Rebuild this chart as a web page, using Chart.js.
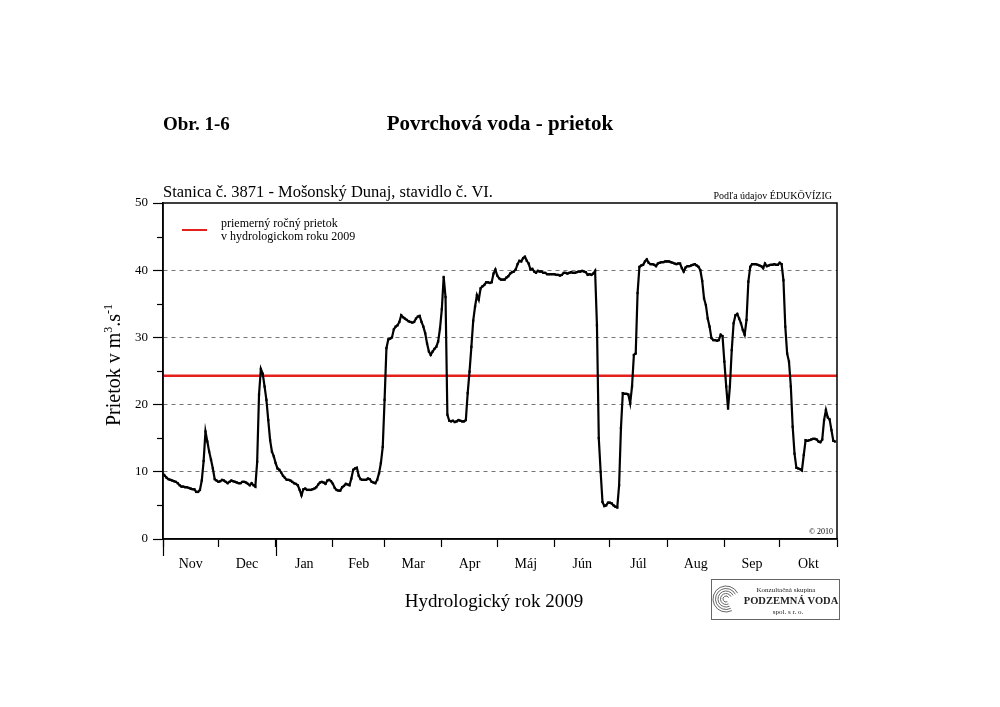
<!DOCTYPE html>
<html>
<head>
<meta charset="utf-8">
<script src="https://cdn.jsdelivr.net/npm/chart.js@4.4.1/dist/chart.umd.min.js"></script>
<style>
html,body{margin:0;padding:0;background:#fff;}
#wrap{width:1000px;height:707px;}
</style>
</head>
<body>
<div id="wrap"><canvas id="c" width="1000" height="707"></canvas></div>
<script>
// ---- data: daily discharge (m3/s), hydrological year 2009 (Nov 2008 - Oct 2009) ----
const monthLabels = ['Nov','Dec','Jan','Feb','Mar','Apr','Máj','Jún','Júl','Aug','Sep','Okt'];
const monthDays   = [30,31,31,28,31,30,31,30,31,31,30,31];

const novQ = [9.7,9.4,9.1,8.9,8.8,8.7,8.6,8.5,8.3,8.0, 7.8,7.8,7.7,7.7,7.6,7.5,7.4,7.4,7.0,7.0, 7.3,8.7,11.6,16.0,14.5,13.0,11.8,10.5,8.9,8.7];
const decQ = [8.5,8.6,8.8,8.7,8.5,8.3,8.5,8.7,8.6,8.5, 8.4,8.3,8.3,8.5,8.5,8.4,8.2,8.0,8.3,8.0, 7.8,11.5,21.5,25.3,24.6,22.7,20.7,17.7,14.7,13.0, 12.3];
const janQ = [11.3,10.5,10.3,9.9,9.4,9.1,8.8,8.8,8.7,8.5, 8.3,8.2,8.0,7.3,6.5,7.4,7.5,7.3,7.3,7.3, 7.4,7.5,7.7,8.1,8.4,8.5,8.4,8.2,8.7,8.8, 8.6];
const febQ = [8.2,7.6,7.3,7.2,7.2,7.7,7.9,8.2,8.1,8.0, 9.0,10.3,10.5,10.6,9.4,8.9,8.8,8.8,8.8,9.0, 8.9,8.5,8.4,8.3,8.8,9.8,11.3,13.7];
const marQ = [20.7,28.4,29.7,29.8,30.0,31.2,31.6,31.8,32.3,33.3, 33.0,32.8,32.6,32.4,32.3,32.2,32.3,32.8,33.1,33.2, 32.3,31.6,30.6,29.1,27.9,27.4,27.9,28.3,28.6,29.4, 31.3];
const aprQ = [34.2,39.0,36.0,18.5,17.6,17.5,17.6,17.4,17.5,17.7, 17.6,17.5,17.5,17.7,21.7,24.9,28.6,32.5,34.6,36.3, 35.6,37.3,37.6,37.8,38.2,38.2,38.1,38.2,39.5,40.1];
const mayQ = [39.2,38.8,38.6,38.6,38.6,38.9,39.1,39.5,39.7,39.8, 40.1,40.9,41.4,41.3,41.8,42.0,41.4,41.0,40.1,40.2, 39.8,39.6,39.9,39.8,39.8,39.6,39.6,39.4,39.4,39.4, 39.4];
const junQ = [39.4,39.3,39.3,39.2,39.3,39.6,39.6,39.5,39.6,39.7, 39.6,39.6,39.7,39.8,39.8,39.9,39.8,39.7,39.3,39.4, 39.3,39.5,39.9,31.8,15.0,10.0,5.5,4.9,5.0,5.4];
const julQ = [5.4,5.3,5.0,4.8,4.7,8.0,16.5,21.7,21.6,21.6, 21.5,20.2,22.7,27.4,27.6,36.6,40.5,40.7,40.8,41.3, 41.6,41.1,40.9,40.9,40.8,40.6,41.0,41.1,41.2,41.2, 41.3];
const augQ = [41.3,41.3,41.2,41.1,41.0,40.9,41.0,41.0,40.3,39.8, 40.4,40.6,40.6,40.7,40.8,40.9,40.7,40.5,40.0,38.4, 35.8,34.8,32.8,31.6,29.9,29.6,29.6,29.5,29.6,30.4, 30.2];
const sepQ = [26.4,22.7,19.4,22.7,28.1,32.1,33.3,33.5,32.8,32.1, 31.1,30.4,32.6,38.3,40.5,40.9,40.9,40.9,40.8,40.7, 40.6,40.3,41.0,40.6,40.7,40.8,40.8,40.9,40.8,40.8];
const octQ = [41.1,40.9,38.5,31.6,27.6,26.4,22.7,16.7,12.7,10.6, 10.5,10.4,10.2,12.5,14.7,14.6,14.7,14.8,14.9,14.9, 14.8,14.5,14.4,14.8,17.7,19.2,18.1,17.8,16.2,14.6, 14.5];

const meanAnnualQ = 24.3;
const yMajorTicks = [0,10,20,30,40,50];
const yMinorTicks = [5,15,25,35,45];
const yGridValues = [10,20,30,40];

// ---- texts ----
const figText = 'Obr. 1-6';
const titleText = 'Povrchová voda - prietok';
const stationText = 'Stanica č. 3871 - Mošonský Dunaj, stavidlo č. VI.';
const sourceText = 'Podľa údajov ÉDUKÖVÍZIG';
const legendLines = ['priemerný ročný prietok', 'v hydrologickom roku 2009'];
const xTitle = 'Hydrologický rok 2009';
const copyText = '© 2010';
const logoLines = ['Konzultačná skupina', 'PODZEMNÁ VODA', 'spol. s r. o.'];

// ---- derived ----
const dailyQ = [].concat(novQ, decQ, janQ, febQ, marQ, aprQ, mayQ, junQ, julQ, augQ, sepQ, octQ);
const monthStart = [0];
monthDays.forEach((d, i) => monthStart.push(monthStart[i] + d));
const totalDays = monthStart[monthStart.length - 1];
const yearStartDay = monthStart[monthLabels.indexOf('Jan')];

const xTickList = [];
monthStart.forEach((d, i) => {
  xTickList.push({value: d, edge: true});
  if (i < monthLabels.length) xTickList.push({value: d + monthDays[i] / 2, edge: false, name: monthLabels[i]});
});

const SERIF = "'Liberation Serif', 'Times New Roman', serif";

const deco = {
  id: 'deco',
  beforeDraw(chart) {
    const ctx = chart.ctx;
    ctx.save();
    ctx.fillStyle = '#fff';
    ctx.fillRect(0, 0, chart.width, chart.height);
    ctx.restore();
  },
  afterDraw(chart) {
    const {ctx, chartArea: a, scales: {x, y}} = chart;
    ctx.save();
    // frame
    ctx.strokeStyle = '#000';
    ctx.lineWidth = 1.5;
    ctx.strokeRect(a.left, a.top, a.right - a.left, a.bottom - a.top);
    // minor y ticks
    ctx.lineWidth = 1.2;
    yMinorTicks.forEach(v => {
      const py = Math.round(y.getPixelForValue(v)) + 0.5;
      ctx.beginPath(); ctx.moveTo(a.left - 6, py); ctx.lineTo(a.left, py); ctx.stroke();
    });
    // long ticks at start of hydrological and calendar year
    [0, yearStartDay].forEach(d => {
      const px = Math.round(x.getPixelForValue(d)) + 0.5;
      ctx.beginPath(); ctx.moveTo(px, a.bottom); ctx.lineTo(px, a.bottom + 17); ctx.stroke();
    });

    ctx.fillStyle = '#000';
    ctx.textBaseline = 'alphabetic';
    // titles
    ctx.font = 'bold 19px ' + SERIF;
    ctx.textAlign = 'left';
    ctx.fillText(figText, 163, 130);
    ctx.font = 'bold 21px ' + SERIF;
    ctx.textAlign = 'center';
    ctx.fillText(titleText, 500, 130);
    // station
    ctx.font = '16.5px ' + SERIF;
    ctx.textAlign = 'left';
    ctx.fillText(stationText, a.left, a.top - 6);
    ctx.font = '10px ' + SERIF;
    ctx.textAlign = 'right';
    ctx.fillText(sourceText, a.right - 5, a.top - 4);
    // copyright
    ctx.font = '8px ' + SERIF;
    ctx.fillText(copyText, a.right - 4, a.bottom - 5);

    // legend
    const mean = chart.data.datasets[1];
    ctx.strokeStyle = mean.borderColor;
    ctx.lineWidth = 2;
    ctx.beginPath(); ctx.moveTo(182, 230); ctx.lineTo(207, 230); ctx.stroke();
    ctx.font = '12px ' + SERIF;
    ctx.textAlign = 'left';
    ctx.fillStyle = '#000';
    ctx.fillText(legendLines[0], 221, 227);
    ctx.fillText(legendLines[1], 221, 240);

    // y title with superscripts
    const parts = [['Prietok v m', 20, 0], ['3', 12, -8], ['.s', 20, 0], ['-1', 12, -8]];
    let total = 0;
    parts.forEach(p => { ctx.font = p[1] + 'px ' + SERIF; total += ctx.measureText(p[0]).width; });
    ctx.save();
    ctx.translate(113, (a.top + a.bottom) / 2 - 6);
    ctx.rotate(-Math.PI / 2);
    ctx.textAlign = 'left';
    let cx = -total / 2;
    parts.forEach(p => {
      ctx.font = p[1] + 'px ' + SERIF;
      ctx.fillText(p[0], cx, 7 + p[2]);
      cx += ctx.measureText(p[0]).width;
    });
    ctx.restore();

    // x title
    ctx.font = '19px ' + SERIF;
    ctx.textAlign = 'center';
    ctx.fillText(xTitle, 494, 607);

    // logo box
    ctx.strokeStyle = '#666';
    ctx.lineWidth = 1;
    ctx.strokeRect(711.5, 579.5, 128, 40);
    ctx.strokeStyle = '#555';
    ctx.lineWidth = 0.9;
    for (let r = 3; r <= 13; r += 2.5) {
      ctx.beginPath(); ctx.arc(726, 599, r, Math.PI * 0.35, Math.PI * 1.85); ctx.stroke();
    }
    ctx.fillStyle = '#222';
    ctx.textAlign = 'center';
    ctx.font = '7px ' + SERIF;
    ctx.fillText(logoLines[0], 786, 592);
    ctx.font = 'bold 10.5px ' + SERIF;
    ctx.fillText(logoLines[1], 791, 604);
    ctx.font = '7px ' + SERIF;
    ctx.fillText(logoLines[2], 788, 614);
    ctx.restore();
  }
};

new Chart(document.getElementById('c'), {
  type: 'line',
  data: {
    datasets: [
      {
        label: 'prietok',
        data: dailyQ.map((v, i) => ({x: i, y: v})),
        borderColor: '#000',
        backgroundColor: '#000',
        borderWidth: 2.2,
        pointRadius: 1.6,
        pointStyle: 'rect',
        pointBorderWidth: 0,
        pointBackgroundColor: '#000',
        tension: 0,
        order: 1
      },
      {
        label: legendLines.join(' '),
        data: [{x: 0, y: meanAnnualQ}, {x: totalDays, y: meanAnnualQ}],
        borderColor: '#e3201c',
        borderWidth: 2.6,
        pointRadius: 0,
        tension: 0,
        order: 2
      }
    ]
  },
  options: {
    responsive: false,
    animation: false,
    devicePixelRatio: 1,
    layout: {padding: {left: 103, right: 163, top: 203, bottom: 128}},
    plugins: {legend: {display: false}, tooltip: {enabled: false}, title: {display: false}},
    scales: {
      x: {
        type: 'linear', min: 0, max: totalDays,
        afterBuildTicks(s) { s.ticks = xTickList.map(t => Object.assign({}, t)); },
        afterFit(s) { s.height = 40; },
        ticks: {
          autoSkip: false, maxRotation: 0, minRotation: 0, color: '#000', padding: 9,
          font: {family: SERIF, size: 14},
          callback(v, i, t) { return t[i].name || ''; }
        },
        grid: {
          drawOnChartArea: false, drawTicks: true, tickLength: 8, tickWidth: 1.2,
          tickColor: c => (c.tick && c.tick.edge) ? '#000' : 'rgba(0,0,0,0)'
        },
        border: {display: true, color: '#000', width: 1.5}
      },
      y: {
        type: 'linear', min: 0, max: 50,
        afterBuildTicks(s) { s.ticks = yMajorTicks.map(v => ({value: v})); },
        afterFit(s) { s.width = 60; },
        ticks: {color: '#000', padding: 5, font: {family: SERIF, size: 13}},
        grid: {
          drawOnChartArea: true, drawTicks: true, tickLength: 10, tickWidth: 1.2, lineWidth: 1,
          color: c => (c.tick && yGridValues.includes(c.tick.value)) ? '#777' : 'rgba(0,0,0,0)',
          tickColor: '#000', tickBorderDash: []
        },
        border: {display: true, color: '#000', width: 1.5, dash: [4, 4]}
      }
    }
  },
  plugins: [deco]
});
</script>
</body>
</html>
